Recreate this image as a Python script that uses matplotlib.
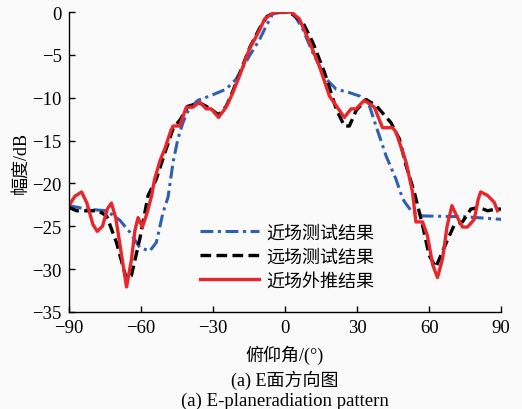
import matplotlib
matplotlib.use("Agg")
import matplotlib.pyplot as plt

plt.rcParams['font.family'] = ['Liberation Serif', 'Noto Sans CJK SC']
plt.rcParams['axes.unicode_minus'] = True

# 近场外推结果 (red)
red_deg = [-90, -87.5, -84.7, -82.5, -80, -78.2, -76, -74, -72.3, -70.5, -68, -66, -64, -62.5,
           -61.2, -59.4, -57.5, -55.6, -54.3, -52, -50.1, -47.5, -46.6, -43.9, -41.1, -38.3,
           -35.6, -32.8, -30.7, -27.7, -24.5, -21.7, -18.9, -14.8, -10.6, -8.5, -4.4, 2.6, 6.0,
           10.2, 14.3, 18.5, 21.5, 24.7, 27.5, 29.6, 33.0, 37.2, 40.6, 44.8, 46.2, 50.4, 53.1,
           54.5, 57.3, 59.3, 61.5, 63.5, 65.6, 67.5, 69.5, 71.5, 73.9, 76.0, 78.8, 80.5, 81.5,
           84.3, 87.1, 88.5]
red_db = [-22.6, -21.5, -21.0, -22.3, -24.8, -25.6, -25.0, -23.0, -22.3, -24.0, -28.5, -32.1,
          -29.0, -25.5, -24.0, -25.1, -23.5, -21.5, -19.5, -17.3, -16.0, -13.8, -13.3, -13.3,
          -11.1, -11.1, -10.5, -11.3, -11.3, -12.3, -11.1, -9.4, -7.4, -4.3, -2.1, -0.8, 0.0,
          0.0, -0.8, -3.5, -6.3, -9.8, -11.0, -12.3, -11.3, -11.3, -10.3, -11.1, -13.5, -13.5,
          -14.0, -17.5, -21.0, -24.5, -24.5, -26.1, -29.5, -31.0, -28.8, -25.0, -22.6, -23.8,
          -25.1, -25.1, -24.2, -21.8, -21.0, -21.4, -22.2, -23.2]

# 远场测试结果 (black dashed)
far_deg = [-90, -86.8, -77.8, -74.3, -70.2, -66, -64, -60.5, -57, -53.6, -50, -46.6, -43.5,
           -40.5, -38, -35.6, -32.8, -30, -27.7, -24.5, -21.7, -18.9, -14.8, -10.6, -7.5, -4,
           1.9, 7.4, 11.5, 16.4, 21.3, 24.7, 26.8, 29.6, 33.7, 37.9, 44.1, 47.6, 50.4, 53.8,
           57.3, 60, 62.8, 66.9, 70.4, 73.9, 77.4, 80.8, 84.3, 87.8, 90]
far_db = [-22.8, -23.2, -23.2, -23.8, -26.9, -31.2, -30.8, -26.5, -21.4, -19.5, -16.4, -13.6,
          -12.5, -11.0, -10.8, -10.6, -11.0, -11.5, -12.0, -11.0, -9.2, -7.2, -4.2, -1.9, -0.5,
          0.0, 0.0, -1.2, -3.5, -7.0, -11.3, -13.3, -13.3, -11.5, -10.2, -10.9, -12.9, -14.8,
          -17.9, -21.0, -24.9, -28.4, -29.8, -27.1, -24.9, -24.5, -23.0, -22.8, -23.2, -23.0,
          -23.0]

# 近场测试结果 (blue dash-dot)
near_deg = [-90, -82.6, -74.3, -68.8, -64.6, -60.5, -56.3, -53.6, -50.8, -48.7, -46.6, -44.6,
            -42.5, -40, -36.3, -31.4, -24.5, -20.3, -14.8, -10.6, -7.8, -5.1, -0.9, 3.2, 7.4,
            11.5, 17.1, 21.3, 26.8, 31, 35.1, 37.9, 42.1, 46.2, 49, 50.4, 53.1, 57.3, 75, 90]
near_db = [-22.6, -23.0, -23.2, -24.3, -25.7, -27.5, -27.9, -26.9, -23.4, -21.6, -17.5, -14.8,
           -12.9, -11.3, -10.3, -9.8, -9.0, -7.8, -5.1, -3.2, -1.6, -0.2, 0.0, 0.0, -2.0, -4.7,
           -7.8, -9.0, -9.4, -9.8, -10.9, -13.3, -16.8, -19.5, -21.8, -22.4, -23.4, -23.8,
           -23.9, -24.2]

xticks = [-90, -60, -30, 0, 30, 60, 90]
yticks = [0, -5, -10, -15, -20, -25, -30, -35]

bg = '#fafafa'
fig = plt.figure(figsize=(5.22, 4.10), dpi=100, facecolor=bg)
ax = fig.add_axes([0.132, 0.237, 0.828, 0.731], facecolor=bg)

ax.plot(near_deg, near_db, color='#2f5fb5', lw=2.2, dashes=(4.2, 1.5, 1.0, 1.5),
        label='近场测试结果')
ax.plot(far_deg, far_db, color='black', lw=2.4, dashes=(3.2, 1.6), label='远场测试结果')
ax.plot(red_deg, red_db, color='#e8262b', lw=2.4, label='近场外推结果')

ax.set_xlim(-90, 90)
ax.set_ylim(-35, 0)
ax.set_xticks(xticks)
ax.set_yticks(yticks)
ax.tick_params(direction='in', length=4, width=1, labelsize=13.5, pad=5)
for s in ['top', 'right']:
    ax.spines[s].set_visible(False)
for s in ['left', 'bottom']:
    ax.spines[s].set_linewidth(1.0)

ax.set_ylabel('幅度/dB', fontsize=13, labelpad=2)

leg = ax.legend(loc='center left', bbox_to_anchor=(0.303, 0.183), frameon=False,
                fontsize=13, handlelength=3.3, handletextpad=0.4, labelspacing=0.4,
                borderpad=0, borderaxespad=0)

fig.text(0.546, 0.134, '俯仰角/(°)', ha='center', va='center', fontsize=13)
fig.text(0.546, 0.073, '(a) E面方向图', ha='center', va='center', fontsize=13)
fig.text(0.546, 0.022, '(a) E-planeradiation pattern', ha='center', va='center', fontsize=13.5)

fig.savefig('out.png', dpi=100, facecolor=bg)
